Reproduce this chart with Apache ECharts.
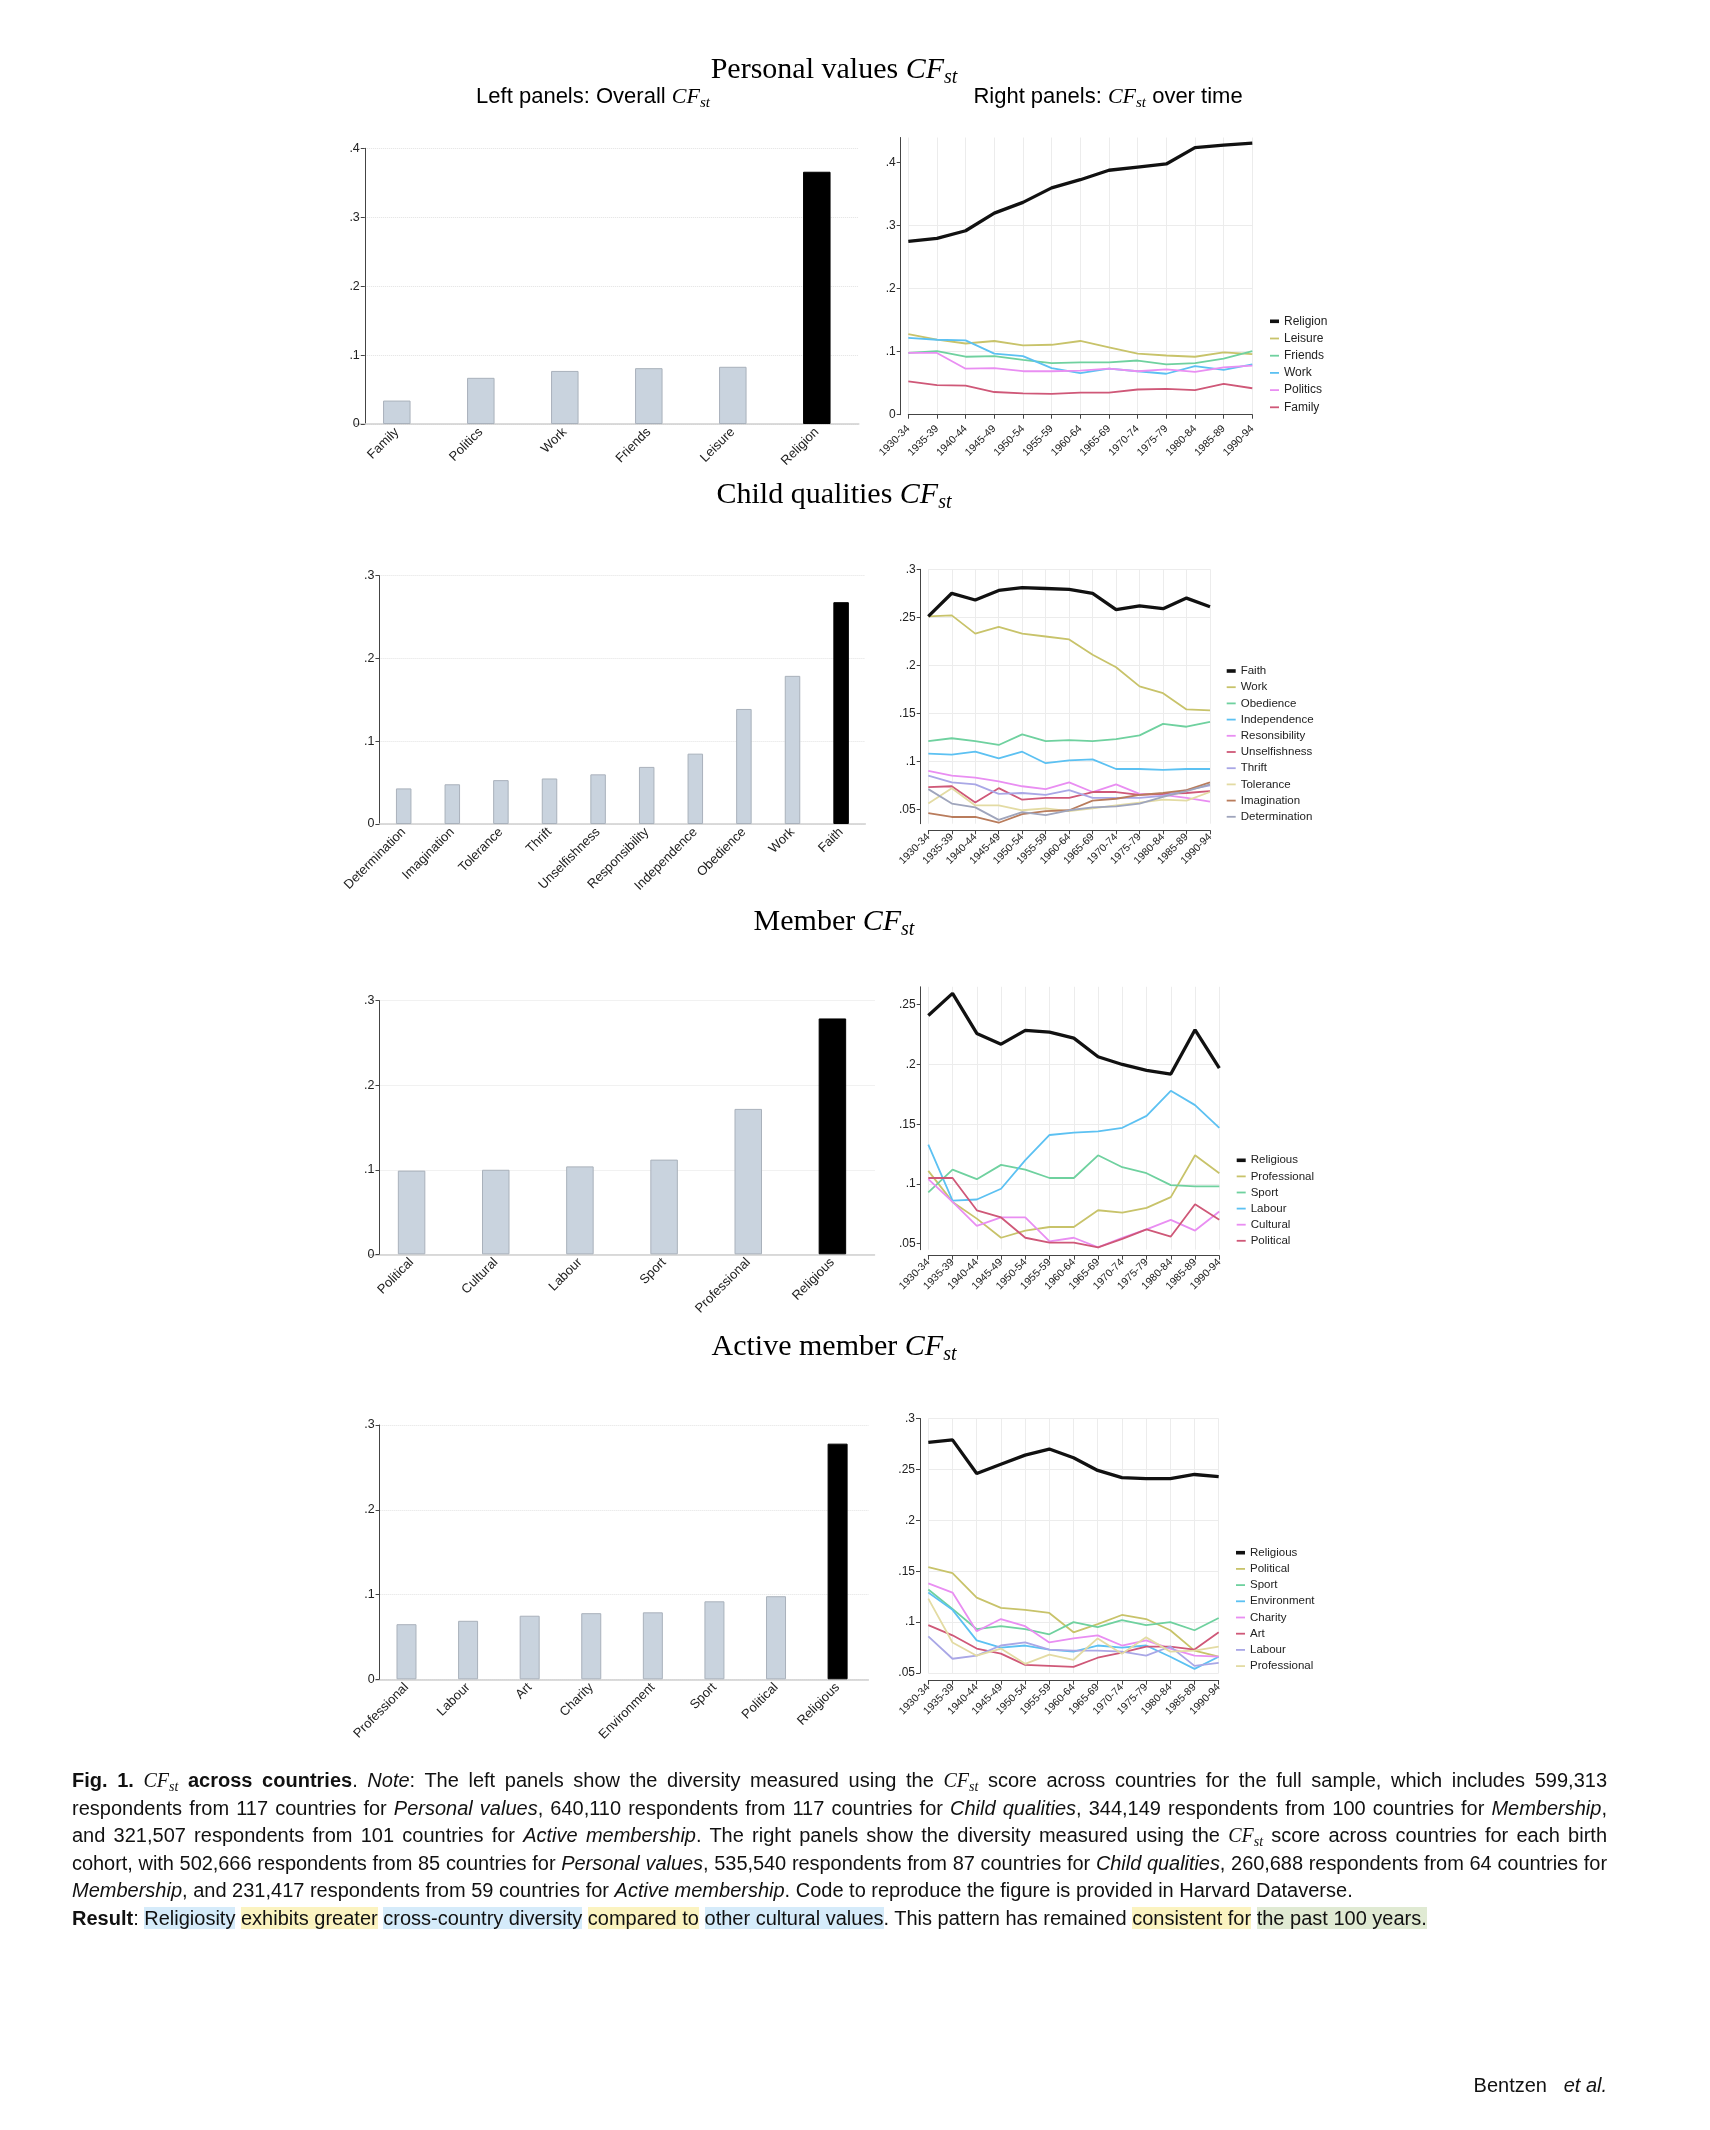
<!DOCTYPE html>
<html><head><meta charset="utf-8">
<script src="https://cdn.jsdelivr.net/npm/echarts@6/dist/echarts.min.js"></script>
<style>
html,body{margin:0;padding:0;background:#fff;}
#chart{position:absolute;left:0;top:0;width:1710px;height:2130px;}
#caption{position:absolute;left:72px;top:1767px;width:1535px;font-family:'Liberation Sans',Arial,sans-serif;font-size:20px;line-height:27.5px;color:#111;}
.j{white-space:nowrap;text-align:justify;text-align-last:justify;}
.l{white-space:nowrap;}
.t{letter-spacing:-0.06px;}
.m{font-family:'Liberation Serif',serif;font-style:italic;}
.m sub{font-size:0.7em;line-height:0;vertical-align:-0.3em;}
.hb{background:#d5ebfa;} .hy{background:#fbf3c0;} .hg{background:#e0ead3;}
#sig{position:absolute;right:103px;top:2074px;font-family:'Liberation Sans',Arial,sans-serif;font-size:20px;color:#111;}
</style></head>
<body>
<div id="chart"></div>
<div id="caption">
<div class="j"><b>Fig. 1.</b> <span class="m">CF<sub>st</sub></span> <b>across countries</b>. <i>Note</i>: The left panels show the diversity measured using the <span class="m">CF<sub>st</sub></span> score across countries for the full sample, which includes 599,313</div>
<div class="j">respondents from 117 countries for <i>Personal values</i>, 640,110 respondents from 117 countries for <i>Child qualities</i>, 344,149 respondents from 100 countries for <i>Membership</i>,</div>
<div class="j">and 321,507 respondents from 101 countries for <i>Active membership</i>. The right panels show the diversity measured using the <span class="m">CF<sub>st</sub></span> score across countries for each birth</div>
<div class="j t">cohort, with 502,666 respondents from 85 countries for <i>Personal values</i>, 535,540 respondents from 87 countries for <i>Child qualities</i>, 260,688 respondents from 64 countries for</div>
<div class="l"><i>Membership</i>, and 231,417 respondents from 59 countries for <i>Active membership</i>. Code to reproduce the figure is provided in Harvard Dataverse.</div>
<div class="l"><b>Result</b>: <span class="hb">Religiosity</span> <span class="hy">exhibits greater</span> <span class="hb">cross-country diversity</span> <span class="hy">compared to</span> <span class="hb">other cultural values</span>. This pattern has remained <span class="hy">consistent for</span> <span class="hg">the past 100 years.</span></div>
</div>
<div id="sig">Bentzen&nbsp;&nbsp;&nbsp;<i>et al.</i></div>
<script>
// ---------- DATA ----------
const cohorts = ['1930-34','1935-39','1940-44','1945-49','1950-54','1955-59','1960-64','1965-69','1970-74','1975-79','1980-84','1985-89','1990-94'];

// Personal values
const pvCats = ['Family','Politics','Work','Friends','Leisure','Religion'];
const pvOverall = [0.034, 0.067, 0.077, 0.081, 0.083, 0.366];
const pvReligion = [0.275,0.280,0.292,0.320,0.337,0.360,0.373,0.388,0.393,0.398,0.424,0.428,0.431];
const pvLeisure  = [0.128,0.119,0.113,0.117,0.110,0.111,0.117,0.107,0.097,0.094,0.092,0.099,0.096];
const pvFriends  = [0.098,0.101,0.092,0.093,0.087,0.082,0.083,0.083,0.086,0.080,0.082,0.089,0.101];
const pvWork     = [0.122,0.119,0.118,0.097,0.093,0.074,0.066,0.073,0.069,0.065,0.077,0.071,0.080];
const pvPolitics = [0.098,0.098,0.073,0.074,0.069,0.069,0.070,0.073,0.069,0.072,0.068,0.075,0.078];
const pvFamily   = [0.053,0.047,0.046,0.036,0.034,0.033,0.035,0.035,0.040,0.041,0.039,0.049,0.042];
const pvTicks = [0, 0.1, 0.2, 0.3, 0.4];

// Child qualities
const cqCats = ['Determination','Imagination','Tolerance','Thrift','Unselfishness','Responsibility','Independence','Obedience','Work','Faith'];
const cqOverall = [0.043,0.048,0.053,0.055,0.060,0.069,0.085,0.139,0.179,0.268];
const cqFaith          = [0.251,0.275,0.268,0.278,0.281,0.280,0.279,0.275,0.258,0.262,0.259,0.270,0.261];
const cqWork           = [0.251,0.252,0.233,0.240,0.233,0.230,0.227,0.211,0.198,0.178,0.171,0.154,0.153];
const cqObedience      = [0.121,0.124,0.121,0.117,0.128,0.121,0.122,0.121,0.123,0.127,0.139,0.136,0.141];
const cqIndependence   = [0.108,0.107,0.110,0.103,0.110,0.098,0.101,0.102,0.092,0.092,0.091,0.092,0.092];
const cqResponsibility = [0.090,0.085,0.083,0.079,0.074,0.071,0.078,0.068,0.076,0.066,0.065,0.062,0.058];
const cqUnselfishness  = [0.073,0.074,0.057,0.072,0.060,0.062,0.062,0.068,0.068,0.065,0.066,0.067,0.069];
const cqThrift         = [0.085,0.078,0.076,0.066,0.067,0.065,0.070,0.062,0.062,0.062,0.064,0.070,0.075];
const cqTolerance      = [0.056,0.072,0.054,0.054,0.049,0.051,0.048,0.051,0.054,0.057,0.060,0.059,0.068];
const cqImagination    = [0.046,0.042,0.042,0.036,0.045,0.048,0.049,0.059,0.061,0.065,0.067,0.070,0.078];
const cqDetermination  = [0.071,0.056,0.052,0.039,0.047,0.044,0.049,0.052,0.053,0.056,0.063,0.069,0.076];
const cqTicks = [0.05, 0.1, 0.15, 0.2, 0.25, 0.3];

// Membership
const mCats = ['Political','Cultural','Labour','Sport','Professional','Religious'];
const mOverall = [0.099,0.100,0.104,0.112,0.172,0.279];
const mReligious    = [0.241,0.2595,0.226,0.217,0.2285,0.227,0.222,0.2065,0.200,0.195,0.192,0.229,0.197];
const mProfessional = [0.111,0.085,0.071,0.055,0.061,0.064,0.064,0.078,0.076,0.080,0.089,0.124,0.109];
const mSport        = [0.093,0.112,0.104,0.116,0.112,0.105,0.105,0.124,0.114,0.109,0.099,0.098,0.098];
const mLabour       = [0.133,0.086,0.087,0.096,0.120,0.141,0.143,0.144,0.147,0.157,0.178,0.166,0.147];
const mCultural     = [0.104,0.085,0.065,0.072,0.072,0.052,0.055,0.047,0.055,0.062,0.070,0.061,0.077];
const mPolitical    = [0.105,0.105,0.078,0.072,0.055,0.051,0.051,0.047,0.054,0.062,0.056,0.083,0.070];
const mTicks = [0.05, 0.1, 0.15, 0.2, 0.25];

// Active membership
const aCats = ['Professional','Labour','Art','Charity','Environment','Sport','Political','Religious'];
const aOverall = [0.065,0.069,0.075,0.078,0.079,0.092,0.098,0.278];
const aReligious    = [0.2765,0.279,0.246,0.255,0.264,0.270,0.2615,0.249,0.242,0.241,0.241,0.245,0.243];
const aPolitical    = [0.154,0.148,0.124,0.114,0.112,0.109,0.090,0.098,0.107,0.103,0.092,0.072,0.066];
const aSport        = [0.132,0.113,0.093,0.096,0.093,0.088,0.100,0.095,0.102,0.097,0.100,0.092,0.104];
const aEnvironment  = [0.129,0.112,0.082,0.075,0.077,0.073,0.071,0.077,0.075,0.077,0.066,0.054,0.066];
const aCharity      = [0.138,0.129,0.091,0.103,0.096,0.080,0.084,0.087,0.077,0.082,0.074,0.067,0.066];
const aArt          = [0.097,0.087,0.074,0.069,0.058,0.057,0.056,0.065,0.070,0.076,0.076,0.073,0.090];
const aLabour       = [0.086,0.064,0.067,0.077,0.080,0.073,0.072,0.072,0.071,0.067,0.076,0.057,0.060];
const aProfessional = [0.123,0.080,0.067,0.074,0.059,0.068,0.063,0.084,0.069,0.085,0.071,0.072,0.076];
const aTicks = [0.05, 0.1, 0.15, 0.2, 0.25, 0.3];
const leftTicks3 = [0, 0.1, 0.2, 0.3];

// ---------- STYLE ----------
const COL = {black:'#111111', olive:'#c8c36a', green:'#6fd19f', blue:'#5cc1f2', pink:'#e98ef2',
  crimson:'#cf5878', lavender:'#a9a7e6', beige:'#e3dba3', brown:'#b97c5c', slate:'#9fa5bc'};
const SANS = 'Liberation Sans, Arial, sans-serif';
const SERIF = 'Liberation Serif, Times New Roman, serif';
const fmtTick = v => { const r = Math.round(v * 1000) / 1000; return r === 0 ? '0' : String(r).replace(/^0\./, '.'); };
const onStep = (v, s) => Math.abs(v / s - Math.round(v / s)) < 1e-6;

const barPanels = [
  {cats: pvCats, vals: pvOverall, ticks: pvTicks, max: 0.4, grid: {left: 354.8, top: 148.3, width: 504, height: 275.7}, barWidth: 27.5, yOffset: -10},
  {cats: cqCats, vals: cqOverall, ticks: leftTicks3, max: 0.3, grid: {left: 379.4, top: 575.7, width: 486, height: 248.3}, barWidth: 15.5, yOffset: 0},
  {cats: mCats, vals: mOverall, ticks: leftTicks3, max: 0.3, grid: {left: 369.5, top: 1000.7, width: 505, height: 253.6}, barWidth: 27.5, yOffset: -10},
  {cats: aCats, vals: aOverall, ticks: leftTicks3, max: 0.3, grid: {left: 375.7, top: 1425, width: 492.7, height: 254.3}, barWidth: 20, yOffset: -3.9}
];

const linePanels = [
  {key: 'pv', ticks: pvTicks, min: 0, max: 0.44, step: 0.1,
   grid: {left: 908.3, top: 137.5, width: 344, height: 277.2}, yOffset: 7.6, xOffset: 7.3,
   legend: {left: 1270, top: 315.3, gap: 5.2, size: 12},
   series: [['Religion', pvReligion, COL.black], ['Leisure', pvLeisure, COL.olive], ['Friends', pvFriends, COL.green],
            ['Work', pvWork, COL.blue], ['Politics', pvPolitics, COL.pink], ['Family', pvFamily, COL.crimson]]},
  {key: 'cq', ticks: cqTicks, min: 0.035, max: 0.3, step: 0.05,
   grid: {left: 928.3, top: 569.3, width: 281.7, height: 254.4}, yOffset: 7.6, xOffset: 6.6,
   legend: {left: 1226.7, top: 665, gap: 4.2, size: 11.5},
   series: [['Faith', cqFaith, COL.black], ['Work', cqWork, COL.olive], ['Obedience', cqObedience, COL.green],
            ['Independence', cqIndependence, COL.blue], ['Resonsibility', cqResponsibility, COL.pink],
            ['Unselfishness', cqUnselfishness, COL.crimson], ['Thrift', cqThrift, COL.lavender],
            ['Tolerance', cqTolerance, COL.beige], ['Imagination', cqImagination, COL.brown],
            ['Determination', cqDetermination, COL.slate]]},
  {key: 'm', ticks: mTicks, min: 0.045, max: 0.265, step: 0.05,
   grid: {left: 928.3, top: 986.8, width: 291, height: 262.9}, yOffset: 7.6, xOffset: 6,
   legend: {left: 1236.7, top: 1154.3, gap: 4.1, size: 11.5},
   series: [['Religious', mReligious, COL.black], ['Professional', mProfessional, COL.olive], ['Sport', mSport, COL.green],
            ['Labour', mLabour, COL.blue], ['Cultural', mCultural, COL.pink], ['Political', mPolitical, COL.crimson]]},
  {key: 'a', ticks: aTicks, min: 0.05, max: 0.3, step: 0.05,
   grid: {left: 928.3, top: 1418.5, width: 290.4, height: 254.5}, yOffset: 8.3, xOffset: 7.7,
   legend: {left: 1236, top: 1546.7, gap: 4.2, size: 11.5},
   series: [['Religious', aReligious, COL.black], ['Political', aPolitical, COL.olive], ['Sport', aSport, COL.green],
            ['Environment', aEnvironment, COL.blue], ['Charity', aCharity, COL.pink], ['Art', aArt, COL.crimson],
            ['Labour', aLabour, COL.lavender], ['Professional', aProfessional, COL.beige]]}
];

const grids = [], xAxes = [], yAxes = [], series = [], legends = [];

barPanels.forEach((p, k) => {
  grids.push(Object.assign({containLabel: false}, p.grid));
  xAxes.push({type: 'category', gridIndex: k, data: p.cats, boundaryGap: true,
    axisLine: {show: true, lineStyle: {color: '#cfcfcf', width: 1.5}},
    axisTick: {show: false},
    axisLabel: {interval: 0, rotate: 45, fontSize: 13, color: '#222', margin: 6, fontFamily: SANS},
    splitLine: {show: false}});
  yAxes.push({type: 'value', gridIndex: k, min: 0, max: p.max, interval: 0.1, offset: p.yOffset,
    axisLine: {show: true, lineStyle: {color: '#444', width: 1}},
    axisTick: {show: true, length: 4, lineStyle: {color: '#444'}},
    axisLabel: {formatter: fmtTick, fontSize: 12.5, color: '#222', margin: 5, fontFamily: SANS},
    splitLine: {show: true, lineStyle: {color: '#e2e2e2', type: 'dotted', width: 1}}});
  series.push({type: 'bar', xAxisIndex: k, yAxisIndex: k, barWidth: p.barWidth,
    itemStyle: {color: '#c9d3de', borderColor: '#a9b1bb', borderWidth: 1},
    data: p.vals.map((v, i) => i === p.vals.length - 1
      ? {value: v, itemStyle: {color: '#000', borderColor: '#000'}} : v)});
});

const thinIcon = 'path://M0 0H10V2H0Z';
const thickIcon = 'path://M0 0H10V4H0Z';

linePanels.forEach((p, j) => {
  const k = barPanels.length + j;
  grids.push(Object.assign({containLabel: false}, p.grid));
  xAxes.push({type: 'category', gridIndex: k, data: cohorts, boundaryGap: false, offset: p.xOffset,
    axisLine: {show: true, lineStyle: {color: '#444', width: 1}},
    axisTick: {show: true, interval: 0, length: 4, lineStyle: {color: '#444'}},
    axisLabel: {interval: 0, rotate: 45, fontSize: 10.5, color: '#222', margin: 5, fontFamily: SANS},
    splitLine: {show: true, interval: 0, lineStyle: {color: '#ececec', width: 1}}});
  yAxes.push({type: 'value', gridIndex: k, min: p.min, max: p.max, minInterval: p.step, maxInterval: p.step,
    offset: p.yOffset,
    axisLine: {show: true, lineStyle: {color: '#444', width: 1}},
    axisTick: {show: true, length: 4, lineStyle: {color: '#444'}, customValues: p.ticks},
    axisLabel: {formatter: v => onStep(v, p.step) ? fmtTick(v) : '', customValues: p.ticks,
      fontSize: 12, color: '#222', margin: 5, fontFamily: SANS},
    splitLine: {show: true, showMinLine: onStep(p.min, p.step), showMaxLine: onStep(p.max, p.step),
      lineStyle: {color: '#ececec', width: 1}}});
  const names = [];
  p.series.forEach(([name, vals, color], i) => {
    const id = p.key + ':' + name;
    names.push({name: id, icon: i === 0 ? thickIcon : thinIcon});
    series.push({type: 'line', name: id, xAxisIndex: k, yAxisIndex: k, data: vals,
      symbol: 'none', showSymbol: false, smooth: false, z: i === 0 ? 5 : 3,
      color: color, itemStyle: {color: color},
      lineStyle: {color: color, width: i === 0 ? 3.3 : 1.8}});
  });
  legends.push({orient: 'vertical', left: p.legend.left, top: p.legend.top, padding: 0,
    itemWidth: 9, itemHeight: 12, itemGap: p.legend.gap, selectedMode: false,
    itemStyle: {borderWidth: 0}, data: names,
    formatter: n => n.slice(n.indexOf(':') + 1),
    textStyle: {fontSize: p.legend.size, color: '#222', fontFamily: SANS, lineHeight: 12}});
});

const serifRich = {
  n: {fontFamily: SERIF, fontSize: 30, lineHeight: 36, fill: '#000'},
  m: {fontFamily: SERIF, fontStyle: 'italic', fontSize: 30, lineHeight: 36, fill: '#000'},
  s: {fontFamily: SERIF, fontStyle: 'italic', fontSize: 20, lineHeight: 20, verticalAlign: 'bottom', fill: '#000'}
};
const sansRich = {
  a: {fontFamily: SANS, fontSize: 22, lineHeight: 27, fill: '#000'},
  m: {fontFamily: SERIF, fontStyle: 'italic', fontSize: 22, lineHeight: 27, fill: '#000'},
  s: {fontFamily: SERIF, fontStyle: 'italic', fontSize: 15, lineHeight: 15, verticalAlign: 'bottom', fill: '#000'}
};
const titleText = (x, y, text, rich) => ({type: 'text', x: x, y: y,
  style: {text: text, rich: rich, align: 'center', verticalAlign: 'middle'}});

const graphics = [
  titleText(834, 70, '{n|Personal values }{m|CF}{s|st}', serifRich),
  titleText(593, 97, '{a|Left panels: Overall }{m|CF}{s|st}', sansRich),
  titleText(1108, 97, '{a|Right panels: }{m|CF}{s|st}{a| over time}', sansRich),
  titleText(834, 495, '{n|Child qualities }{m|CF}{s|st}', serifRich),
  titleText(834, 922, '{n|Member }{m|CF}{s|st}', serifRich),
  titleText(834, 1347, '{n|Active member }{m|CF}{s|st}', serifRich)
];

const chart = echarts.init(document.getElementById('chart'), null, {renderer: 'canvas'});
chart.setOption({
  animation: false,
  backgroundColor: '#fff',
  textStyle: {fontFamily: SANS},
  grid: grids, xAxis: xAxes, yAxis: yAxes, series: series, legend: legends,
  graphic: graphics
});
</script>
</body></html>
